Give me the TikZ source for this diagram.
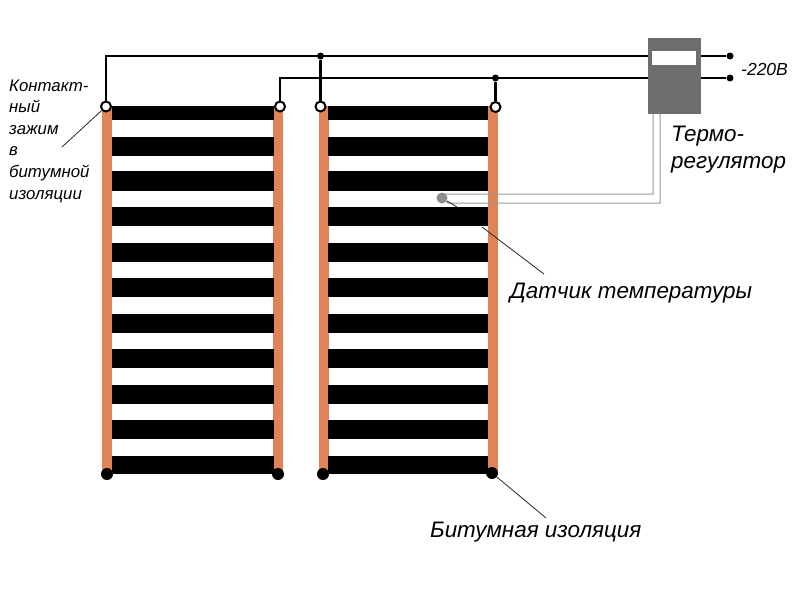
\documentclass[tikz,border=0pt]{standalone}
\usepackage{fontspec}
\setmainfont{Liberation Sans}
\definecolor{FilmCopper}{HTML}{E08358}
\definecolor{BoxGray}{HTML}{6E6E6E}
\definecolor{SensorWire}{HTML}{989898}
\definecolor{SensorBead}{HTML}{8C8C8C}
\tikzset{
  stripe/.style={fill=black, inner sep=0pt, minimum width=162pt},
  copper/.style={fill=FilmCopper, inner sep=0pt, minimum width=10pt, minimum height=368pt},
  clamp/.style={circle, draw=black, fill=white, line width=2pt, inner sep=0pt, minimum size=10pt},
  endcap/.style={circle, fill=black, inner sep=0pt, minimum size=12pt},
  joint/.style={circle, fill=black, inner sep=0pt, minimum size=7pt},
  wire/.style={line width=2.4pt, black},
  sensorline/.style={line width=1pt, SensorWire},
  leader/.style={line width=.8pt, black!85},
  caption/.style={font=\itshape\fontsize{22.4}{27}\selectfont, inner sep=0pt, anchor=west, align=left}
}

\begin{document}
\begin{tikzpicture}[x=1pt, y=-1pt]
    \useasboundingbox (0,0) rectangle (800,600);

    % heating film
    \node[copper] (barA) at (107,290) {};
    \node[copper] (barB) at (278,290) {};
    \node[copper] (barC) at (324,290) {};
    \node[copper] (barD) at (492.5,290) {};
    \foreach \top/\high [count=\i] in {106/14, 136.5/19, 171/20, 207/19, 243/19, 278/19, 314/19, 349/19, 385/19, 420/19, 455.5/18.5} {
      \node[stripe, minimum height=\high pt] (left\i) at (192.5,\top+\high/2) {};
      \node[stripe, minimum height=\high pt, minimum width=160pt] (right\i) at (408,\top+\high/2) {};
    }

    % thermostat
    \node[fill=BoxGray, inner sep=0pt, minimum width=53pt, minimum height=76pt] (thermostat) at (674.5,76) {};
    \node[fill=white, inner sep=0pt, minimum width=44pt, minimum height=14pt] (display) at (674,58) {};

    \node[clamp] (clampA) at (106,106.5) {};
    \node[clamp] (clampB) at (280,106.5) {};
    \node[clamp] (clampC) at (320.5,106.5) {};
    \node[clamp] (clampD) at (495.5,107) {};
    \node[endcap] (capA) at (107,474) {};
    \node[endcap] (capB) at (278,474) {};
    \node[endcap] (capC) at (323,474) {};
    \node[endcap] (capD) at (492,473) {};

    \node[joint] (jointC) at (320.5,56) {};
    \node[joint] (jointD) at (495.5,78) {};
    \node[joint] (mainsA) at (730,56) {};
    \node[joint] (mainsB) at (730,78) {};
    \coordinate (busA) at (106,56);
    \coordinate (busB) at (280,78);
    \coordinate (inA) at (648,56);
    \coordinate (inB) at (648,78);
    \coordinate (outA) at (701,56);
    \coordinate (outB) at (701,78);

    \draw[wire] (clampA) -- (busA) -- (inA);
    \draw[wire] (clampB) -- (busB) -- (inB);
    \draw[wire] (clampC) -- (jointC);
    \draw[wire] (clampD) -- (jointD);
    \draw[wire] (outA) -- (mainsA);
    \draw[wire] (outB) -- (mainsB);

    % sensor
    \node[circle, fill=SensorBead, inner sep=0pt, minimum size=11pt] (sensor) at (442,198) {};
    \coordinate (sensorA) at (653,114);
    \coordinate (sensorB) at (660,114);
    \coordinate (bendA) at (653,194);
    \coordinate (bendB) at (660,203);
    \draw[sensorline] (sensor) -- (445,194) -- (bendA) -- (sensorA);
    \draw[sensorline] (sensor) -- (448,203) -- (bendB) -- (sensorB);

    % labels
    \node[caption] (thermoLabel) at (671,150) {Термо-\\регулятор};
    \node[caption] (sensorLabel) at (510,293) {Датчик температуры};
    \node[caption] (filmLabel) at (430,532) {Битумная изоляция};
    \node[caption, font=\itshape\fontsize{17.5}{17.5}\selectfont] (voltLabel) at (741,69) {-220В};
    \node[caption, font=\itshape\fontsize{16.8}{21.6}\selectfont] (clampLabel) at (9,141) {Контакт-\\ный\\зажим\\в\\битумной\\изоляции};

    \coordinate (clampTail) at (62,147);
    \coordinate (sensorTail) at (544,274);
    \coordinate (sensorHead) at (482,227);
    \coordinate (sensorStub) at (457,207);
    \coordinate (filmTail) at (546,518);
    \draw[leader] (clampA) -- (clampTail);
    \draw[leader] (sensorHead) -- (sensorTail);
    \draw[leader] (sensor) -- (sensorStub);
    \draw[leader] (capD) -- (filmTail);
  \end{tikzpicture}
\end{document}
